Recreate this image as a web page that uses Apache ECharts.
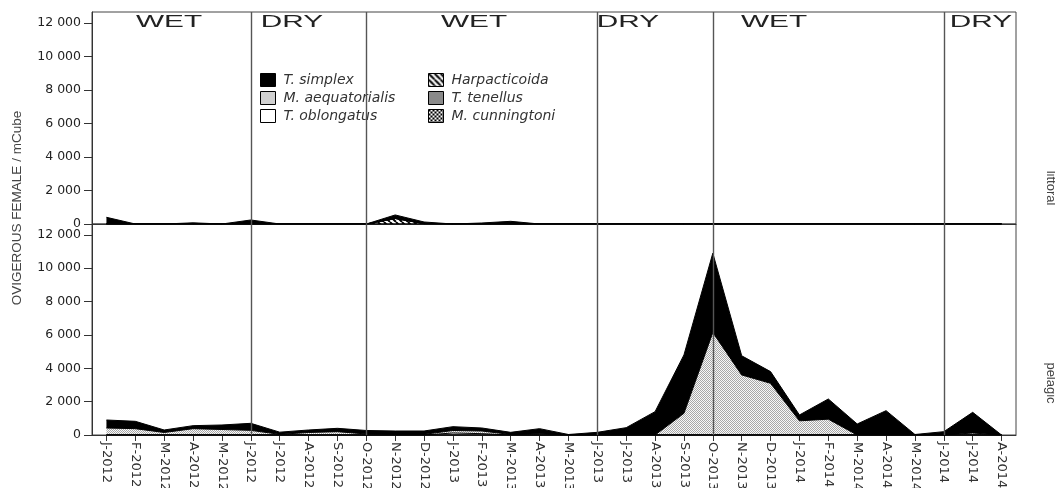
<!DOCTYPE html>
<html><head><meta charset="utf-8">
<script src="https://cdn.jsdelivr.net/npm/echarts@6/dist/echarts.min.js"></script>
<style>html,body{margin:0;padding:0;background:#fff}#c{width:1055px;height:488px}</style>
</head><body><div id="c"></div>
<script>
// ---------- data ----------
const months = ['J-2012','F-2012','M-2012','A-2012','M-2012','J-2012','J-2012','A-2012','S-2012','O-2012','N-2012','D-2012',
  'J-2013','F-2013','M-2013','A-2013','M-2013','J-2013','J-2013','A-2013','S-2013','O-2013','N-2013','D-2013',
  'J-2014','F-2014','M-2014','A-2014','M-2014','J-2014','J-2014','A-2014'];
const yTicks = [0, 2000, 4000, 6000, 8000, 10000, 12000];
const seasonBreaks = [5, 9, 17, 21, 29];           // category index where a season starts
const seasonNames = ['WET', 'DRY', 'WET', 'DRY', 'WET', 'DRY'];
const species = ['T. simplex', 'M. aequatorialis', 'T. oblongatus', 'Harpacticoida', 'T. tenellus', 'M. cunningtoni'];

// littoral (top panel)
const litSimplex = [400,0,0,70,0,240,0,0,0,0,210,100,0,60,160,0,0,0,0,0,0,0,0,0,0,0,0,0,0,0,0,0];
const litAequat  = [0,0,0,0,0,0,0,0,0,0,0,0,0,0,0,0,0,0,0,0,0,0,0,0,0,0,0,0,0,0,0,0];
const litOblong  = [0,0,0,0,0,0,0,0,0,0,0,0,0,0,0,0,0,0,0,0,0,0,0,0,0,0,0,0,0,0,0,0];
const litHarp    = [0,0,0,0,0,0,0,0,0,0,330,20,0,0,0,0,0,0,0,0,0,0,0,0,0,0,0,0,0,0,0,0];
const litTenell  = [0,0,0,0,0,0,0,0,0,0,0,0,0,0,0,0,0,0,0,0,0,0,0,0,0,0,0,0,0,0,0,0];
const litCunning = [0,0,0,0,0,0,0,0,0,0,0,0,0,0,0,0,0,0,0,0,0,0,0,0,0,0,0,0,0,0,0,0];

// pelagic (bottom panel)
const pelSimplex = [480,440,150,180,270,420,130,150,200,210,200,200,230,180,130,300,30,160,440,1400,3500,4750,1150,700,350,1210,660,1460,30,200,1240,0];
const pelAequat  = [420,380,150,380,330,280,40,150,200,60,40,40,150,160,30,80,0,0,0,0,1300,6150,3600,3100,850,950,0,0,0,0,120,0];
const pelOblong  = [0,0,0,0,0,0,0,0,0,0,0,0,120,80,0,0,0,0,0,0,0,0,0,0,0,0,0,0,0,0,0,0];
const pelHarp    = [0,0,0,0,0,0,0,0,0,0,0,0,0,0,0,0,0,0,0,0,0,0,0,0,0,0,0,0,0,0,0,0];
const pelTenell  = [0,0,0,0,0,0,0,0,0,0,0,0,0,0,0,0,0,0,0,0,0,0,0,0,0,0,0,0,0,0,0,0];
const pelCunning = [0,0,0,0,0,0,0,0,0,0,0,0,0,0,0,0,0,0,0,0,0,0,0,0,0,0,0,0,0,0,0,0];

// ---------- fills ----------
function pattern(w, h, draw) {
  const c = document.createElement('canvas'); c.width = w; c.height = h;
  const g = c.getContext('2d'); g.fillStyle = '#fff'; g.fillRect(0, 0, w, h); draw(g);
  return { image: c, repeat: 'repeat' };
}
const fillStipple = pattern(2, 2, g => { g.fillStyle = '#a8a8a8'; g.fillRect(0,0,1,1); g.fillRect(1,1,1,1); g.fillStyle='#f8f8f8'; g.fillRect(1,0,1,1); g.fillRect(0,1,1,1); });
const fillStripe = pattern(6, 6, g => { g.strokeStyle = '#000'; g.lineWidth = 2; g.beginPath();
  for (let k = -6; k <= 6; k += 6) { g.moveTo(k, 0); g.lineTo(k + 6, 6); } g.stroke(); });
const fillChecker = pattern(4, 4, g => { g.fillStyle = '#000'; g.fillRect(0,0,2,2); g.fillRect(2,2,2,2); });
const fills = {
  'T. simplex': '#000000',
  'M. aequatorialis': fillStipple,
  'T. oblongatus': '#ffffff',
  'Harpacticoida': fillStripe,
  'T. tenellus': '#8a8a8a',
  'M. cunningtoni': fillChecker
};

// stacking order (bottom -> top)
const stackOrder = [
  ['M. cunningtoni', litCunning, pelCunning],
  ['T. tenellus', litTenell, pelTenell],
  ['Harpacticoida', litHarp, pelHarp],
  ['T. oblongatus', litOblong, pelOblong],
  ['M. aequatorialis', litAequat, pelAequat],
  ['T. simplex', litSimplex, pelSimplex]
];

const series = [];
[0, 1].forEach(panel => {
  stackOrder.forEach(([name, lit, pel], k) => {
    const s = {
      type: 'line', name, xAxisIndex: panel, yAxisIndex: panel,
      stack: panel ? 'pel' : 'lit', data: panel ? pel : lit,
      symbol: 'none', smooth: false,
      lineStyle: { color: '#000', width: 1 },
      itemStyle: { color: fills[name], borderColor: '#000' },
      areaStyle: { color: fills[name], opacity: 1 },
      emphasis: { disabled: true }
    };
    if (k === stackOrder.length - 1) {
      s.markLine = {
        silent: true, symbol: 'none', animation: false,
        lineStyle: { color: '#555', width: 1.4, type: 'solid' },
        label: { show: false },
        data: seasonBreaks.map(i => ({ xAxis: i }))
      };
    }
    series.push(s);
  });
});

function fmt(v) { return String(v).replace(/\B(?=(\d{3})+(?!\d))/g, ' '); }

const yAxisBase = gi => ({
  type: 'value', gridIndex: gi, min: 0, max: 12650, interval: 2000,
  axisLine: { show: true, lineStyle: { color: '#333', width: 1 } },
  axisTick: { show: true, length: 8, customValues: yTicks, lineStyle: { color: '#333' } },
  axisLabel: { customValues: yTicks, formatter: v => (v % 2000 === 0 ? fmt(v) : ''), color: '#222',
    fontSize: 12.5, fontFamily: 'DejaVu Sans', margin: 11 },
  splitLine: { show: false }
});

const legendBase = {
  orient: 'vertical', icon: 'rect', itemWidth: 15, itemHeight: 13, itemGap: 4,
  selectedMode: false,
  itemStyle: { borderColor: '#000', borderWidth: 1 },
  textStyle: { fontStyle: 'italic', fontSize: 14, color: '#333', fontFamily: 'DejaVu Sans', padding: [0, 0, 0, 3] }
};

const seasonX = [169, 292, 474, 628, 774, 981];
const graphic = seasonNames.map((t, i) => ({
  type: 'text', x: seasonX[i], y: 22, scaleX: 1.75,
  style: { text: t, font: '17px "Liberation Sans"', fill: '#222', align: 'center', verticalAlign: 'middle' }
}));
graphic.push({ type: 'text', x: 17, y: 208, rotation: Math.PI / 2,
  style: { text: 'OVIGEROUS FEMALE / mCube', font: '13.5px "Liberation Sans"', fill: '#444', align: 'center', verticalAlign: 'middle' } });
graphic.push({ type: 'text', x: 1044, y: 188, rotation: -Math.PI / 2,
  style: { text: 'littoral', font: '13px "Liberation Sans"', fill: '#444', align: 'center', verticalAlign: 'bottom' } });
graphic.push({ type: 'text', x: 1044, y: 383, rotation: -Math.PI / 2,
  style: { text: 'pelagic', font: '13px "Liberation Sans"', fill: '#444', align: 'center', verticalAlign: 'bottom' } });

const chart = echarts.init(document.getElementById('c'), null, { renderer: 'canvas' });
chart.setOption({
  animation: false,
  backgroundColor: '#fff',
  grid: [
    { left: 92, top: 12, width: 924, height: 212, show: true, borderColor: '#444', borderWidth: 1, backgroundColor: 'transparent', containLabel: false, outerBoundsMode: 'none' },
    { left: 92, top: 224, width: 924, height: 211, show: true, borderColor: '#444', borderWidth: 1, backgroundColor: 'transparent', containLabel: false, outerBoundsMode: 'none' }
  ],
  xAxis: [
    { type: 'category', gridIndex: 0, data: months, boundaryGap: true,
      axisLine: { show: true, lineStyle: { color: '#333' } }, axisTick: { show: false }, axisLabel: { show: false } },
    { type: 'category', gridIndex: 1, data: months, boundaryGap: true,
      axisLine: { show: true, lineStyle: { color: '#333' } },
      axisTick: { show: true, alignWithLabel: true, length: 6, lineStyle: { color: '#333' } },
      axisLabel: { interval: 0, rotate: -90, fontSize: 13, color: '#333', fontFamily: 'DejaVu Sans', margin: 7 } }
  ],
  yAxis: [yAxisBase(0), yAxisBase(1)],
  legend: [
    Object.assign({}, legendBase, { data: species.slice(0, 3), left: 255, top: 68 }),
    Object.assign({}, legendBase, { data: species.slice(3), left: 423, top: 68 })
  ],
  series,
  graphic
});
</script>
</body></html>
